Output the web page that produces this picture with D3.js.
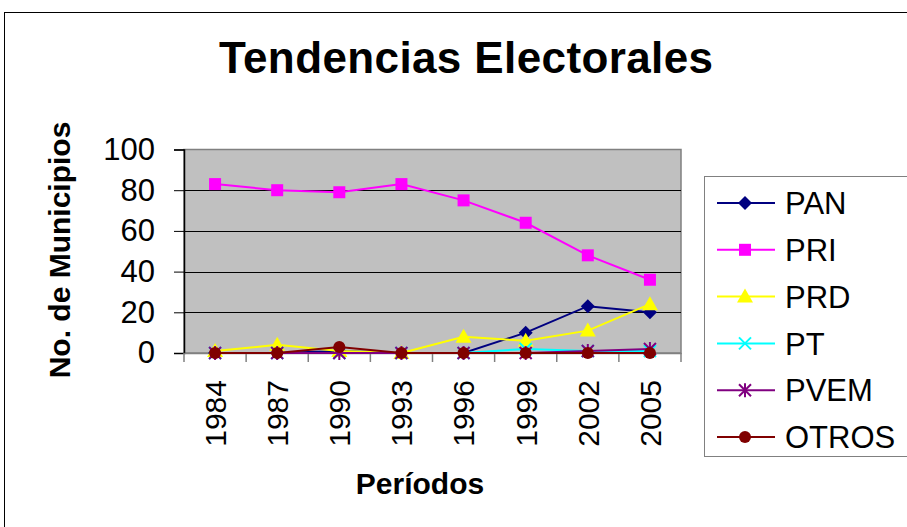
<!doctype html>
<html lang="es">
<head>
<meta charset="utf-8" />
<title>Tendencias Electorales</title>
<script src="https://d3js.org/d3.v7.min.js"></script>
<style>
  body { margin: 0; background: #fff; }
  svg text { font-family: "Liberation Sans", Arial, sans-serif; fill: #000; }
</style>
</head>
<body>
<script>
// datos
const periodos = ["1984", "1987", "1990", "1993", "1996", "1999", "2002", "2005"];
const pan   = [0, 0, 1, 0, 0, 10, 23, 20];
const pri   = [83, 80, 79, 83, 75, 64, 48, 36];
const prd   = [1, 4, 1, 0, 8, 6, 11, 24];
const pt    = [0, 0, 0, 0, 0, 2, 1, 1];
const pvem  = [0, 0, 0, 0, 0, 0, 1, 2];
const otros = [0, 0, 3, 0, 0, 0, 0, 0];
const yTicks = [0, 20, 40, 60, 80, 100];

const series = [
  { name: "PAN",   values: pan,   color: "#000080", shape: "diamond" },
  { name: "PRI",   values: pri,   color: "#FF00FF", shape: "square" },
  { name: "PRD",   values: prd,   color: "#FFFF00", shape: "triangle" },
  { name: "PT",    values: pt,    color: "#00FFFF", shape: "cross" },
  { name: "PVEM",  values: pvem,  color: "#800080", shape: "star" },
  { name: "OTROS", values: otros, color: "#800000", shape: "circle" }
];

let width = 907, height = 527;
let plot = { left: 184, top: 149.5, right: 681, bottom: 353 };

const svg = d3.select("body").append("svg")
    .attr("width", width)
    .attr("height", height);

// marco exterior
svg.append("rect")
    .attr("x", 4.5).attr("y", 12.5)
    .attr("width", 920).attr("height", 530)
    .attr("fill", "none")
    .attr("stroke", "#000")
    .attr("stroke-width", 1);

svg.append("text")
    .attr("x", 466).attr("y", 73)
    .attr("text-anchor", "middle")
    .attr("font-size", 44)
    .attr("font-weight", "bold")
    .attr("textLength", 494)
    .text("Tendencias Electorales");

const x = d3.scaleBand().domain(periodos).range([plot.left, plot.right]);
const y = d3.scaleLinear().domain([0, 100]).range([plot.bottom, plot.top]);

// area de trazado
svg.append("rect")
    .attr("x", plot.left).attr("y", plot.top)
    .attr("width", plot.right - plot.left)
    .attr("height", plot.bottom - plot.top)
    .attr("fill", "#C0C0C0")
    .attr("stroke", "#808080")
    .attr("stroke-width", 1.5);

// rejilla
svg.append("g").selectAll("line")
    .data(yTicks.filter(d => d > 0 && d < 100))
    .enter().append("line")
        .attr("x1", plot.left).attr("x2", plot.right)
        .attr("y1", d => Math.round(y(d)) + 0.5)
        .attr("y2", d => Math.round(y(d)) + 0.5)
        .attr("stroke", "#000")
        .attr("stroke-width", 1);

// eje y
const yAxis = svg.append("g")
    .attr("transform", `translate(${plot.left},0)`)
    .call(d3.axisLeft(y).tickValues(yTicks).tickSize(10).tickPadding(19).tickFormat(d3.format("d")));
yAxis.select(".domain").attr("stroke", "#000").attr("stroke-width", 1.5);
yAxis.selectAll(".tick line").attr("stroke", "#000");
yAxis.selectAll("text").attr("font-size", 31).attr("fill", "#000");

// eje x
const xAxis = svg.append("g")
    .attr("transform", `translate(0,${plot.bottom})`)
    .call(d3.axisBottom(x).tickSize(0).tickPadding(0));
xAxis.select(".domain").attr("stroke", "#808080").attr("stroke-width", 1.5);
xAxis.selectAll("text")
    .attr("font-size", 30)
    .attr("fill", "#000")
    .attr("text-anchor", "end")
    .attr("transform", "rotate(-90)")
    .attr("x", -27)
    .attr("y", 0)
    .attr("dy", "0.36em");

// marcas del eje x en los limites de cada categoria
const bounds = periodos.map(d => x(d)).concat([plot.right]);
svg.append("g").selectAll("line")
    .data(bounds)
    .enter().append("line")
        .attr("x1", d => d).attr("x2", d => d)
        .attr("y1", plot.bottom).attr("y2", plot.bottom + 9)
        .attr("stroke", "#808080")
        .attr("stroke-width", 1.5);

svg.append("text")
    .attr("x", 420).attr("y", 494)
    .attr("text-anchor", "middle")
    .attr("font-size", 30)
    .attr("font-weight", "bold")
    .text("Períodos");

svg.append("text")
    .attr("transform", "translate(70,250) rotate(-90)")
    .attr("text-anchor", "middle")
    .attr("font-size", 30)
    .attr("font-weight", "bold")
    .text("No. de Municipios");

function marker(g, shape, color) {
    if (shape === "diamond") {
        g.append("path").attr("d", "M0,-7L7,0L0,7L-7,0Z").attr("fill", color);
    } else if (shape === "square") {
        g.append("rect").attr("x", -6).attr("y", -6).attr("width", 12).attr("height", 12).attr("fill", color);
    } else if (shape === "triangle") {
        g.append("path").attr("d", "M0,-8L8,6L-8,6Z").attr("fill", color);
    } else if (shape === "cross") {
        g.append("path").attr("d", "M-6,-6L6,6M6,-6L-6,6").attr("stroke", color).attr("stroke-width", 2).attr("fill", "none");
    } else if (shape === "star") {
        g.append("path").attr("d", "M-6,-6L6,6M6,-6L-6,6M0,-7L0,7").attr("stroke", color).attr("stroke-width", 2).attr("fill", "none");
    } else {
        g.append("circle").attr("r", 6).attr("fill", color);
    }
}

const line = d3.line()
    .x((d, i) => x(periodos[i]) + x.bandwidth() / 2)
    .y(d => y(d));

const seriesLayer = svg.append("g");
series.forEach(s => {
    const g = seriesLayer.append("g");
    g.append("path")
        .attr("d", line(s.values))
        .attr("fill", "none")
        .attr("stroke", s.color)
        .attr("stroke-width", 2);
    s.values.forEach((v, i) => {
        const m = g.append("g")
            .attr("transform", `translate(${x(periodos[i]) + x.bandwidth() / 2},${y(v)})`);
        marker(m, s.shape, s.color);
    });
});

// leyenda
const legend = svg.append("g");
legend.append("rect")
    .attr("x", 704.5).attr("y", 176.5)
    .attr("width", 220).attr("height", 280)
    .attr("fill", "#fff")
    .attr("stroke", "#808080")
    .attr("stroke-width", 1);

const rowY = d3.scalePoint().domain(series.map(s => s.name)).range([203, 437]);
series.forEach(s => {
    const row = legend.append("g").attr("transform", `translate(0,${rowY(s.name)})`);
    row.append("line")
        .attr("x1", 717).attr("x2", 775)
        .attr("y1", 0).attr("y2", 0)
        .attr("stroke", s.color)
        .attr("stroke-width", 2);
    marker(row.append("g").attr("transform", "translate(745,0)"), s.shape, s.color);
    row.append("text")
        .attr("x", 785).attr("y", 0)
        .attr("dy", "0.36em")
        .attr("font-size", 31)
        .text(s.name);
});
</script>
</body>
</html>
